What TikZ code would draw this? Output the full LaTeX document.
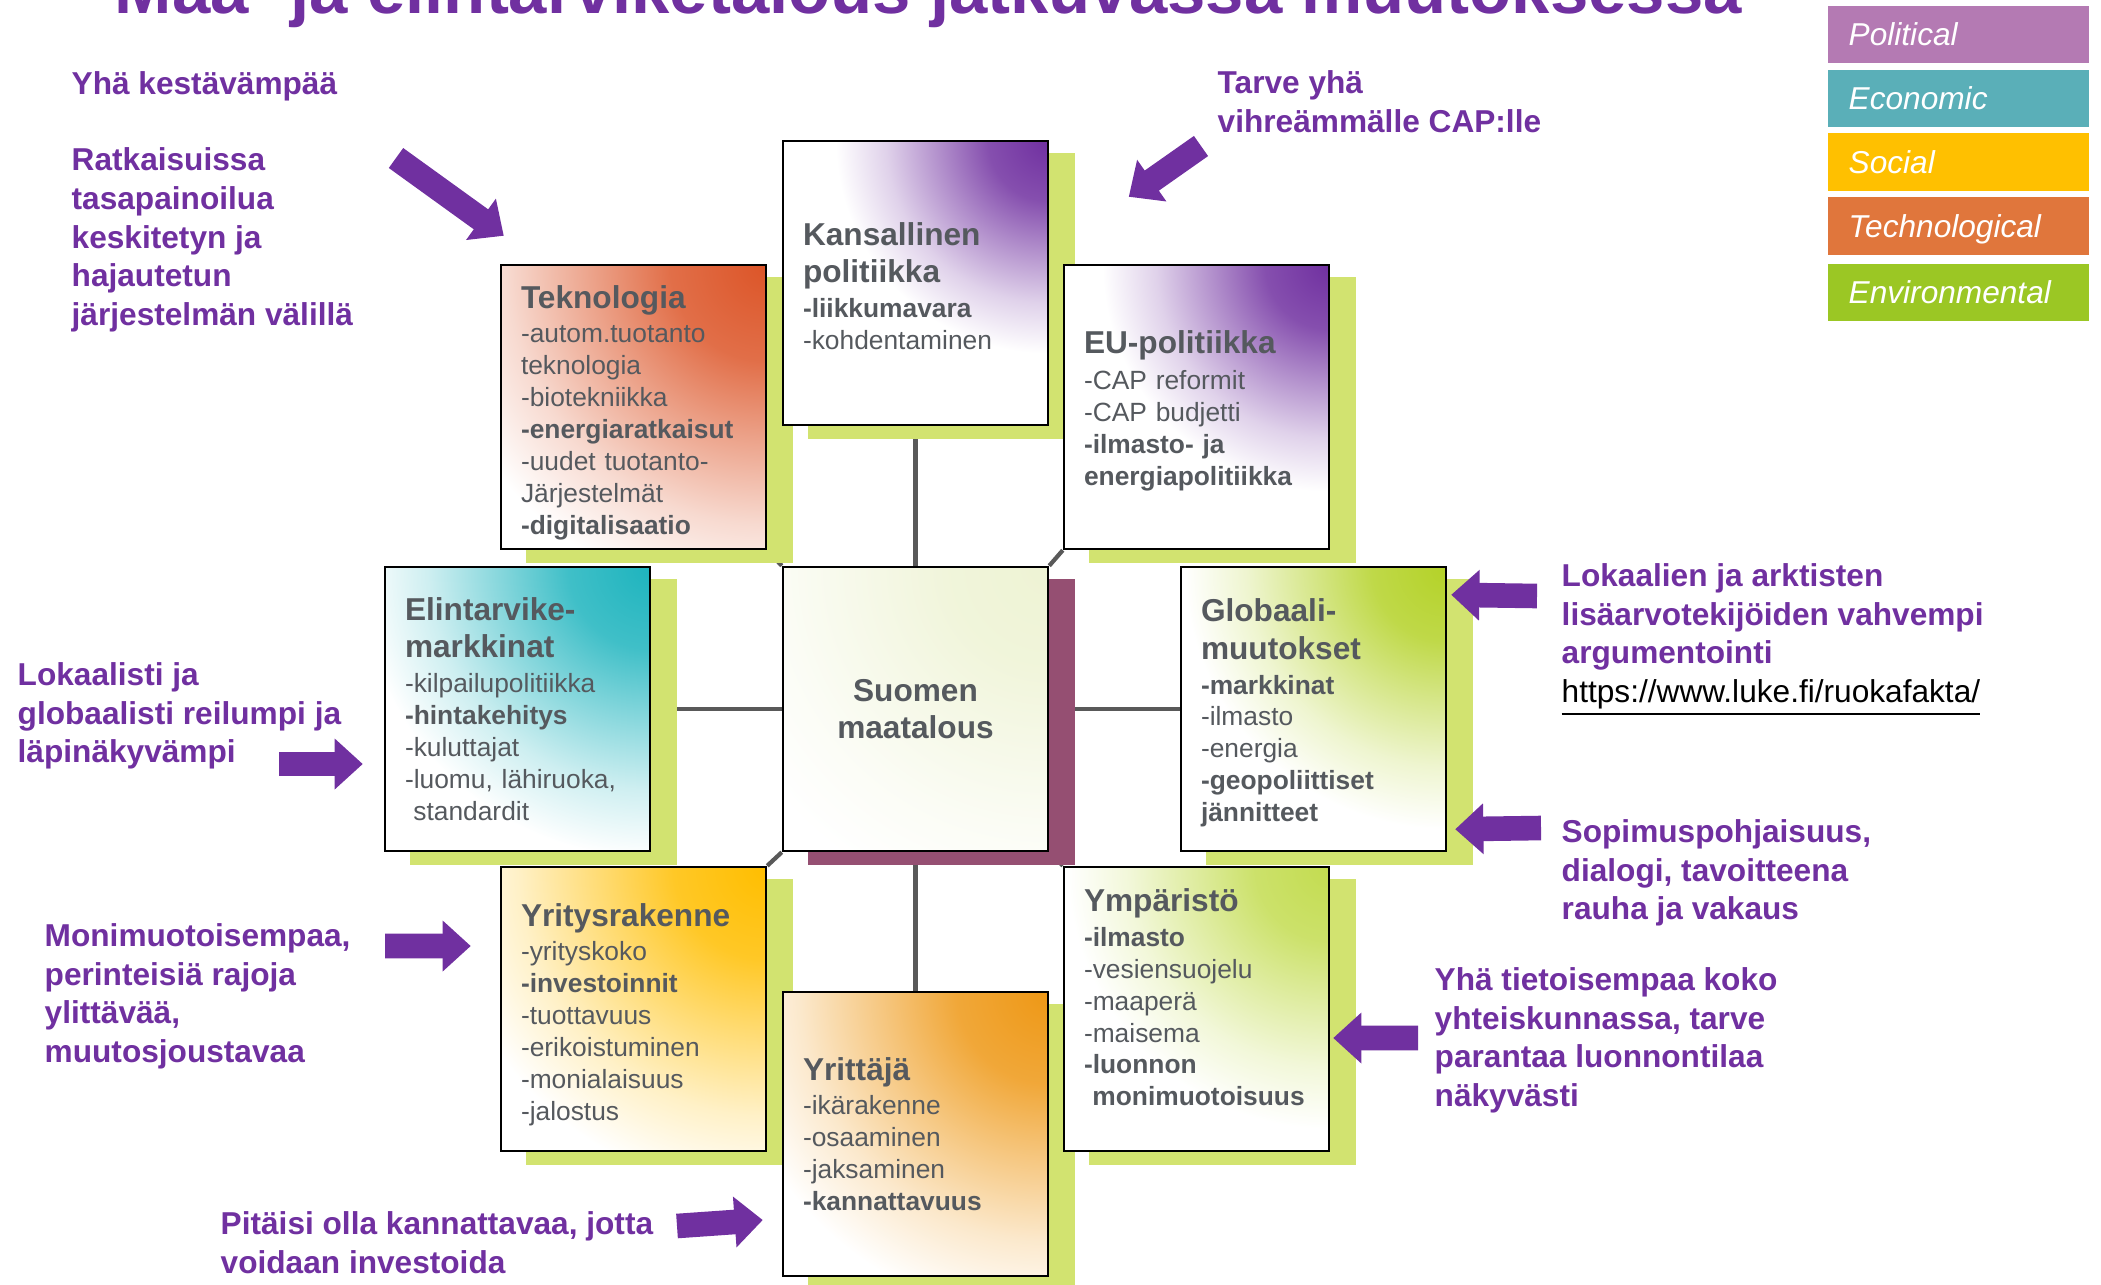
\documentclass[tikz,border=0pt]{standalone}
\usepackage{fontspec}
\setmainfont{Liberation Sans}
\usepackage{tikz,xcolor}
\usetikzlibrary{arrows.meta,backgrounds,calc}

\definecolor{titlepurple}{RGB}{112,48,160}
\definecolor{txtgray}{RGB}{85,89,94}
\definecolor{linegray}{RGB}{89,89,89}
\definecolor{shadowgreen}{RGB}{210,227,112}
\definecolor{shadowred}{RGB}{149,79,114}
\definecolor{polcol}{RGB}{180,122,179}
\definecolor{ecocol}{RGB}{90,175,184}
\definecolor{soccol}{RGB}{255,192,0}
\definecolor{tekcol}{RGB}{224,118,60}
\definecolor{envcol}{RGB}{155,199,36}
\definecolor{polpurple}{RGB}{112,48,160}
\definecolor{tekorange}{RGB}{220,85,40}
\definecolor{elinteal}{RGB}{30,180,190}
\definecolor{globlime}{RGB}{180,210,40}
\definecolor{suomicream}{RGB}{238,243,212}
\definecolor{yrgold}{RGB}{255,190,0}
\definecolor{ymplime}{RGB}{195,220,80}
\definecolor{yritorange}{RGB}{238,152,22}
\colorlet{fadecol}{white}

% corner fade, white reached at the rim of the shaded circle
\pgfdeclareradialshading[fadecol]{cornerfade}{\pgfpointorigin}{color(0bp)=(fadecol); color(5bp)=(fadecol!85!white); color(9bp)=(fadecol!55!white); color(13.5bp)=(fadecol!22!white); color(17.7bp)=(white); color(50bp)=(white)}

\newcommand{\boxhead}[1]{{\fontsize{9}{10.6}\selectfont\bfseries #1}}

\tikzset{
  factor/.style={draw=black, line width=0.7pt, fill=white, minimum width=2.65cm, minimum height=2.84cm,
    text width=2.25cm, inner xsep=0.2cm, inner ysep=0pt, align=left, text=txtgray,
    font=\fontsize{7.5}{9.07}\selectfont},
  fade/.style 2 args={path picture={\colorlet{fadecol}{#1}\shade[shading=cornerfade] (path picture bounding box.north east) circle (#2);}},
  link/.style={draw=linegray, line width=1.2pt},
  legendbox/.style={fill=#1, text=white, anchor=north west, minimum width=2.61cm, minimum height=0.575cm,
    text width=2.19cm, inner xsep=0.21cm, inner ysep=0pt, align=left, text height=6.5pt, text depth=0pt,
    font=\fontsize{9}{10}\selectfont\itshape},
  note/.style={anchor=north west, inner sep=0pt, align=left, text=titlepurple, font=\fontsize{9}{11}\selectfont\bfseries},
  bigarrow/.style={draw=titlepurple, line width=7pt, -{Triangle[length=8pt,width=14pt]}}
}

\begin{document}
\begin{tikzpicture}
\useasboundingbox (0,0) rectangle (21.01,-12.84);

% title, cut off by the top edge
\node[anchor=base west, inner sep=0pt, text=titlepurple, font=\fontsize{19.6}{22}\selectfont\bfseries] (title) at (1.14,-0.13) {Maa- ja elintarviketalous jatkuvassa muutoksessa};

% legend
\node[legendbox=polcol] (leg1) at (18.27,-0.05) {Political};
\node[legendbox=ecocol] (leg2) at (18.27,-0.69) {Economic};
\node[legendbox=soccol] (leg3) at (18.27,-1.325) {Social};
\node[legendbox=tekcol] (leg4) at (18.27,-1.965) {Technological};
\node[legendbox=envcol] (leg5) at (18.27,-2.63) {Environmental};

% the boxes
\node[factor, fade={suomicream}{5cm}, align=center] (suomi) at (9.155,-7.09) {\boxhead{Suomen}\\[1.6pt]\boxhead{maatalous}};

\node[factor, fade={polpurple}{3.0cm}] (kans) at (9.155,-2.83) {\rule{0pt}{8.1pt}\boxhead{Kansallinen}\\[1.6pt]\boxhead{politiikka}\\[0.8pt]\textbf{-liikkumavara}\\-kohdentaminen};

\node[factor, fade={tekorange}{4.8cm}] (tekno) at (6.335,-4.07) {\rule{0pt}{9.6pt}\boxhead{Teknologia}\\[0.8pt]-autom.tuotanto\\teknologia\\-biotekniikka\\\textbf{-energiaratkaisut}\\-uudet tuotanto-\\Järjestelmät\\\textbf{-digitalisaatio}};

\node[factor, fade={polpurple}{3.2cm}] (eu) at (11.965,-4.07) {\rule{0pt}{8.8pt}\boxhead{EU-politiikka}\\[1.1pt]-CAP reformit\\-CAP budjetti\\\textbf{-ilmasto- ja}\\\textbf{energiapolitiikka}};

\node[factor, fade={elinteal}{4.1cm}] (elin) at (5.175,-7.09) {\boxhead{Elintarvike-}\\[1.6pt]\boxhead{markkinat}\\[0.8pt]-kilpailupolitiikka\\\textbf{-hintakehitys}\\-kuluttajat\\-luomu, lähiruoka,\\\hspace*{0.6ex}standardit};

\node[factor, fade={globlime}{3.7cm}] (glob) at (13.135,-7.09) {\rule{0pt}{8.8pt}\boxhead{Globaali-}\\[1.6pt]\boxhead{muutokset}\\[0.8pt]\textbf{-markkinat}\\-ilmasto\\-energia\\\textbf{-geopoliittiset}\\\textbf{jännitteet}};

\node[factor, fade={yrgold}{4.6cm}] (yrak) at (6.335,-10.09) {\rule{0pt}{9.6pt}\boxhead{Yritysrakenne}\\[0.8pt]-yrityskoko\\\textbf{-investoinnit}\\-tuottavuus\\-erikoistuminen\\-monialaisuus\\-jalostus};

\node[factor, fade={ymplime}{3.7cm}] (ymp) at (11.965,-10.09) {\boxhead{Ympäristö}\\[0.8pt]\textbf{-ilmasto}\\-vesiensuojelu\\-maaperä\\-maisema\\\textbf{-luonnon}\\\textbf{\hspace*{0.6ex}monimuotoisuus}\\[-2.4pt]\mbox{}};

\node[factor, fade={yritorange}{4.6cm}] (yrit) at (9.155,-11.34) {\boxhead{Yrittäjä}\\[0.8pt]-ikärakenne\\-osaaminen\\-jaksaminen\\\textbf{-kannattavuus}};

% links and shadows go behind the boxes
\begin{scope}[on background layer]
\draw[link] (kans) -- (suomi);
\draw[link] (suomi) -- (yrit);
\draw[link] (elin) -- (suomi);
\draw[link] (suomi) -- (glob);
\draw[link] (tekno.south east) -- (suomi.north west);
\draw[link] (eu.south west) -- (suomi.north east);
\draw[link] (yrak.north east) -- (suomi.south west);
\draw[link] (ymp.north west) -- (suomi.south east);

\fill[shadowgreen] ($(kans.north west)+(0.26,-0.13)$) rectangle ($(kans.south east)+(0.26,-0.13)$);
\fill[shadowgreen] ($(tekno.north west)+(0.26,-0.13)$) rectangle ($(tekno.south east)+(0.26,-0.13)$);
\fill[shadowgreen] ($(eu.north west)+(0.26,-0.13)$) rectangle ($(eu.south east)+(0.26,-0.13)$);
\fill[shadowgreen] ($(elin.north west)+(0.26,-0.13)$) rectangle ($(elin.south east)+(0.26,-0.13)$);
\fill[shadowred] ($(suomi.north west)+(0.26,-0.13)$) rectangle ($(suomi.south east)+(0.26,-0.13)$);
\fill[shadowgreen] ($(glob.north west)+(0.26,-0.13)$) rectangle ($(glob.south east)+(0.26,-0.13)$);
\fill[shadowgreen] ($(yrak.north west)+(0.26,-0.13)$) rectangle ($(yrak.south east)+(0.26,-0.13)$);
\fill[shadowgreen] ($(ymp.north west)+(0.26,-0.13)$) rectangle ($(ymp.south east)+(0.26,-0.13)$);
\fill[shadowgreen] ($(yrit.north west)+(0.26,-0.13)$) rectangle ($(yrit.south east)+(0.26,-0.13)$);
\end{scope}

% comments round the boxes
\node[note] (n1) at (0.71,-0.71) {Yhä kestävämpää\\[10.7pt]Ratkaisuissa\\tasapainoilua\\keskitetyn ja\\hajautetun\\järjestelmän välillä};
\node[note] (n2) at (12.17,-0.70) {Tarve yhä\\vihreämmälle CAP:lle};
\node[note] (n3) at (15.61,-5.63) {Lokaalien ja arktisten\\lisäarvotekijöiden vahvempi\\argumentointi\\{\mdseries\color{black}\underline{https://www.luke.fi/ruokafakta/}}};
\node[note] (n4) at (15.61,-8.19) {Sopimuspohjaisuus,\\dialogi, tavoitteena\\rauha ja vakaus};
\node[note] (n5) at (14.34,-9.67) {Yhä tietoisempaa koko\\yhteiskunnassa, tarve\\parantaa luonnontilaa\\näkyvästi};
\node[note] (n6) at (0.17,-6.62) {Lokaalisti ja\\globaalisti reilumpi ja\\läpinäkyvämpi};
\node[note] (n7) at (0.44,-9.23) {Monimuotoisempaa,\\perinteisiä rajoja\\ylittävää,\\muutosjoustavaa};
\node[note] (n8) at (2.20,-12.11) {Pitäisi olla kannattavaa, jotta\\voidaan investoida};

% arrows
\coordinate (t1) at (3.96,-1.58);
\coordinate (t2) at (12.01,-1.46);
\coordinate (t3) at (15.37,-5.96);
\coordinate (t4) at (15.41,-8.28);
\coordinate (t5) at (14.18,-10.38);
\coordinate (t6) at (2.79,-7.64);
\coordinate (t7) at (3.85,-9.46);
\coordinate (t8) at (6.77,-12.26);
\draw[bigarrow] (t1) -- ($(tekno.north west)+(0.04,0.28)$);
\draw[bigarrow] (t2) -- ($(eu.north west)+(0.66,0.67)$);
\draw[bigarrow] (t3) -- ($(glob.north east)+(0.04,-0.29)$);
\draw[bigarrow] (t4) -- ($(glob.south east)+(0.08,0.23)$);
\draw[bigarrow] (t5) -- ($(ymp.east)+(0.03,-0.29)$);
\draw[bigarrow] (t6) -- ($(elin.west)+(-0.21,-0.55)$);
\draw[bigarrow] (t7) -- ($(yrak.west)+(-0.29,0.63)$);
\draw[bigarrow] (t8) -- ($(yrit.west)+(-0.19,-0.86)$);

\end{tikzpicture}
\end{document}
